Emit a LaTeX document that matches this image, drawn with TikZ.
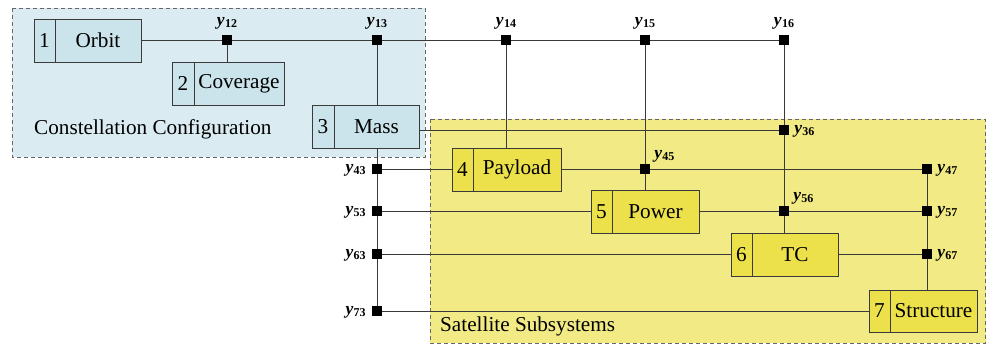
\documentclass[tikz,border=0pt]{standalone}
\usepackage{fontspec}
\setmainfont{Liberation Serif}
\usetikzlibrary{fit}
\definecolor{bgblue}{HTML}{DAEBF1}
\definecolor{boxblue}{HTML}{CBE3EA}
\definecolor{bgyellow}{HTML}{F2EB85}
\definecolor{boxyellow}{HTML}{ECE04B}
\definecolor{edge}{HTML}{3A3A3A}
\newcommand\ylab[1]{{\fontsize{17.5}{17.5}\selectfont\bfseries\itshape y}\kern0.3pt\raisebox{-2pt}{\fontsize{12}{12}\selectfont\bfseries #1}}
% \mkbox{name}{x1}{y1}{x2}{y2}{xdiv}{num}{text}{fill}
\newcommand\mkbox[9]{%
  \node[fit={(#2,#3)(#4,#5)}, inner sep=0pt, draw=edge, line width=0.9pt, fill=#9] (#1) {};
  \draw[edge, line width=0.9pt] (#6,#3) -- (#6,#5);
  \node[boxtxt] (#1n) at ({(#2+#6)/2},{(#3+#5)/2}) {#7};
  \node[boxtxt] (#1t) at ({(#6+#4)/2},{(#3+#5)/2}) {#8};
}
\begin{document}
\begin{tikzpicture}[x=1pt,y=-1pt,
  boxtxt/.style={inner sep=0pt, font=\fontsize{21.2}{24}\selectfont},
  region/.style={draw=gray!80!black, dashed, dash pattern=on 4pt off 3pt, line width=0.8pt},
  conn/.style={draw=edge, line width=0.9pt},
  junc/.style={rectangle, fill=black, minimum size=10pt, inner sep=0pt},
  lab/.style={inner sep=0pt}]
\useasboundingbox (0,0) rectangle (987,345);
% regions
\path[region, fill=bgblue] (12,8) rectangle (425,157);
\path[region, fill=bgyellow] (430,119) rectangle (985.5,343);
\node[boxtxt, anchor=west] (cc) at (34,129) {Constellation Configuration};
\node[boxtxt, anchor=west] (ss) at (440,326) {Satellite Subsystems};
% boxes
\mkbox{orbit}{34}{19}{141}{62}{55}{1}{Orbit}{boxblue}
\mkbox{coverage}{172}{62}{284}{105}{194}{2}{Coverage}{boxblue}
\mkbox{mass}{312}{105}{419}{148}{334}{3}{Mass}{boxblue}
\mkbox{payload}{452}{148}{561}{191}{473}{4}{Payload}{boxyellow}
\mkbox{power}{591}{190}{699}{233}{612}{5}{Power}{boxyellow}
\mkbox{tc}{731}{233}{838}{276}{752}{6}{TC}{boxyellow}
\mkbox{structure}{869}{290}{977}{332}{890}{7}{Structure}{boxyellow}
% junctions
\node[junc] (j12) at (227,40) {};
\node[junc] (j13) at (377,40) {};
\node[junc] (j14) at (506,40) {};
\node[junc] (j15) at (645,40) {};
\node[junc] (j16) at (784,40) {};
\node[junc] (j36) at (784,130) {};
\node[junc] (j43) at (377,169) {};
\node[junc] (j53) at (377,211) {};
\node[junc] (j63) at (377,254) {};
\node[junc] (j73) at (377,311) {};
\node[junc] (j45) at (645,169) {};
\node[junc] (j47) at (927,169) {};
\node[junc] (j56) at (784,211) {};
\node[junc] (j57) at (927,211) {};
\node[junc] (j67) at (927,254) {};
% connectors
\draw[conn] (orbit.east |- j12) -- (j12) -- (j13) -- (j14) -- (j15) -- (j16);
\draw[conn] (j12) -- (j12 |- coverage.north);
\draw[conn] (j13) -- (j13 |- mass.north);
\draw[conn] (j13 |- mass.south) -- (j43) -- (j53) -- (j63) -- (j73);
\draw[conn] (j14) -- (j14 |- payload.north);
\draw[conn] (j15) -- (j45) -- (j45 |- power.north);
\draw[conn] (j16) -- (j36) -- (j56) -- (j56 |- tc.north);
\draw[conn] (j36) -- (j36 -| mass.east);
\draw[conn] (j43) -- (j43 -| payload.west);
\draw[conn] (j45 -| payload.east) -- (j45) -- (j47);
\draw[conn] (j53) -- (j53 -| power.west);
\draw[conn] (j56 -| power.east) -- (j56) -- (j57);
\draw[conn] (j63) -- (j63 -| tc.west);
\draw[conn] (j67 -| tc.east) -- (j67);
\draw[conn] (j73) -- (j73 -| structure.west);
\draw[conn] (j47) -- (j57) -- (j67) -- (j67 |- structure.north);
% junctions on top
\foreach \j in {j12,j13,j14,j15,j16,j36,j43,j53,j63,j73,j45,j47,j56,j57,j67}{\node[junc] at (\j) {};}
% labels
\node[lab, anchor=south] (l12) at ([yshift=5pt]j12.north) {\ylab{12}};
\node[lab, anchor=south] (l13) at ([yshift=5pt]j13.north) {\ylab{13}};
\node[lab, anchor=south] (l14) at ([yshift=5pt]j14.north) {\ylab{14}};
\node[lab, anchor=south] (l15) at ([yshift=5pt]j15.north) {\ylab{15}};
\node[lab, anchor=south] (l16) at ([yshift=5pt]j16.north) {\ylab{16}};
\node[lab, anchor=west] (l36) at ([xshift=5pt,yshift=-1pt]j36.east) {\ylab{36}};
\node[lab, anchor=east] (l43) at ([xshift=-6pt,yshift=-1pt]j43.west) {\ylab{43}};
\node[lab, anchor=east] (l53) at ([xshift=-6pt,yshift=-1pt]j53.west) {\ylab{53}};
\node[lab, anchor=east] (l63) at ([xshift=-6pt,yshift=-1pt]j63.west) {\ylab{63}};
\node[lab, anchor=east] (l73) at ([xshift=-6pt,yshift=-1pt]j73.west) {\ylab{73}};
\node[lab, anchor=south west] (l45) at ([xshift=4pt,yshift=1pt]j45.north east) {\ylab{45}};
\node[lab, anchor=south west] (l56) at ([xshift=4pt,yshift=1pt]j56.north east) {\ylab{56}};
\node[lab, anchor=west] (l47) at ([xshift=5pt,yshift=-1pt]j47.east) {\ylab{47}};
\node[lab, anchor=west] (l57) at ([xshift=5pt,yshift=-1pt]j57.east) {\ylab{57}};
\node[lab, anchor=west] (l67) at ([xshift=5pt,yshift=-1pt]j67.east) {\ylab{67}};
\end{tikzpicture}
\end{document}
